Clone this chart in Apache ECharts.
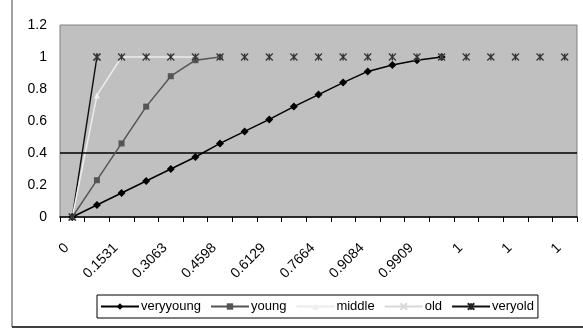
<!DOCTYPE html>
<html><head><meta charset="utf-8">
<script src="https://cdn.jsdelivr.net/npm/echarts@6/dist/echarts.min.js"></script>
<style>html,body{margin:0;padding:0;background:#fff}#c{width:583px;height:328px}</style>
</head><body><div id="c"></div>
<script>
// category labels (odd ones are hidden in the original; estimated)
const categories = ['0','0.0766','0.1531','0.2297','0.3063','0.383','0.4598','0.5364','0.6129','0.6897','0.7664','0.8431','0.9084','0.9611','0.9909','1','1','1','1','1','1'];
const veryyoung = [0,0.075,0.15,0.225,0.30,0.375,0.46,0.535,0.61,0.69,0.765,0.84,0.91,0.95,0.98,1.0];
const young = [0,0.23,0.46,0.69,0.88,0.98,1.0];
const middle = [0,0.76,1,1,1,1];
const old = [0,1,1,1,1,1,1,1,1,1,1,1,1,1,1,1,1,1,1,1,1];
const veryold = [0,1,1,1,1,1,1,1,1,1,1,1,1,1,1,1,1,1,1,1,1];
const yTicks = [0,0.2,0.4,0.6,0.8,1,1.2];
const threshold = 0.4;

const starPath = 'path://M0,0L10,10M10,0L0,10M5,0L5,10';
const xPath = 'path://M0,0L10,10M10,0L0,10';
const F = '"Liberation Sans", Arial, sans-serif';

const chart = echarts.init(document.getElementById('c'));
chart.setOption({
  animation:false,
  graphic:[
    {type:'line',shape:{x1:12,y1:0,x2:12,y2:327},style:{stroke:'#444',lineWidth:1}},
    {type:'line',shape:{x1:12,y1:327,x2:583,y2:327},style:{stroke:'#000',lineWidth:1.5}}
  ],
  grid:{left:60,right:6,top:25,bottom:111,show:true,backgroundColor:'#c0c0c0',borderColor:'#808080',borderWidth:1},
  legend:{
    top:295,left:97,
    data:['veryyoung','young','middle','old','veryold'],
    borderColor:'#000',borderWidth:1,borderRadius:0,
    padding:[5,4,5,3],itemGap:9,itemWidth:38,itemHeight:8,
    textStyle:{fontFamily:F,fontSize:13,color:'#000',padding:[0,0,0,-3]}
  },
  xAxis:{
    type:'category',data:categories,boundaryGap:true,
    axisLine:{lineStyle:{color:'#000',width:1.5}},
    axisTick:{show:true,length:5,alignWithLabel:false,interval:0,lineStyle:{color:'#000'}},
    axisLabel:{interval:1,rotate:45,fontFamily:F,fontSize:14,color:'#000',margin:23,padding:[0,8,0,0]},
    splitLine:{show:false}
  },
  yAxis:{
    type:'value',min:0,max:1.2,interval:0.2,
    axisLine:{show:false},axisTick:{show:false},splitLine:{show:false},
    axisLabel:{fontFamily:F,fontSize:14,color:'#000',margin:13,
      formatter:v=>{const t=yTicks.find(x=>Math.abs(x-v)<1e-9);return t===undefined?'':String(t);}}
  },
  series:[
    {name:'veryold',type:'line',data:veryold.slice(0,2),symbol:starPath,symbolSize:7,showAllSymbol:true,
     lineStyle:{color:'#111',width:1.5},itemStyle:{color:'none',borderColor:'#222',borderWidth:1.5},z:3},
    {name:'old',type:'line',data:old.slice(0,2),symbol:xPath,symbolSize:6,showAllSymbol:true,
     lineStyle:{color:'#d8d8d8',width:1.5},itemStyle:{color:'none',borderColor:'#d8d8d8',borderWidth:1.2},z:2},
    {name:'middle',type:'line',data:middle,symbol:'triangle',symbolSize:6,showAllSymbol:true,
     lineStyle:{color:'#ececec',width:1.5},itemStyle:{color:'#f0f0f0'},z:4},
    {name:'young',type:'line',data:young,symbol:'rect',symbolSize:6,showAllSymbol:true,
     lineStyle:{color:'#555',width:1.5},itemStyle:{color:'#555'},z:5},
    {name:'veryyoung',type:'line',data:veryyoung,symbol:'diamond',symbolSize:8,showAllSymbol:true,
     lineStyle:{color:'#000',width:1.5},itemStyle:{color:'#000'},z:6,
     markLine:{silent:true,symbol:'none',label:{show:false},lineStyle:{color:'#000',width:1.5,type:'solid'},data:[{yAxis:threshold}]}},
    {name:'old',type:'line',data:old,symbol:xPath,symbolSize:7,showAllSymbol:true,
     lineStyle:{opacity:0},itemStyle:{color:'none',borderColor:'#d0d0d0',borderWidth:1.2},z:7},
    {name:'veryold',type:'line',data:veryold,symbol:starPath,symbolSize:7,showAllSymbol:true,
     lineStyle:{opacity:0},itemStyle:{color:'none',borderColor:'#333',borderWidth:1.3},z:8}
  ]
});
</script></body></html>
